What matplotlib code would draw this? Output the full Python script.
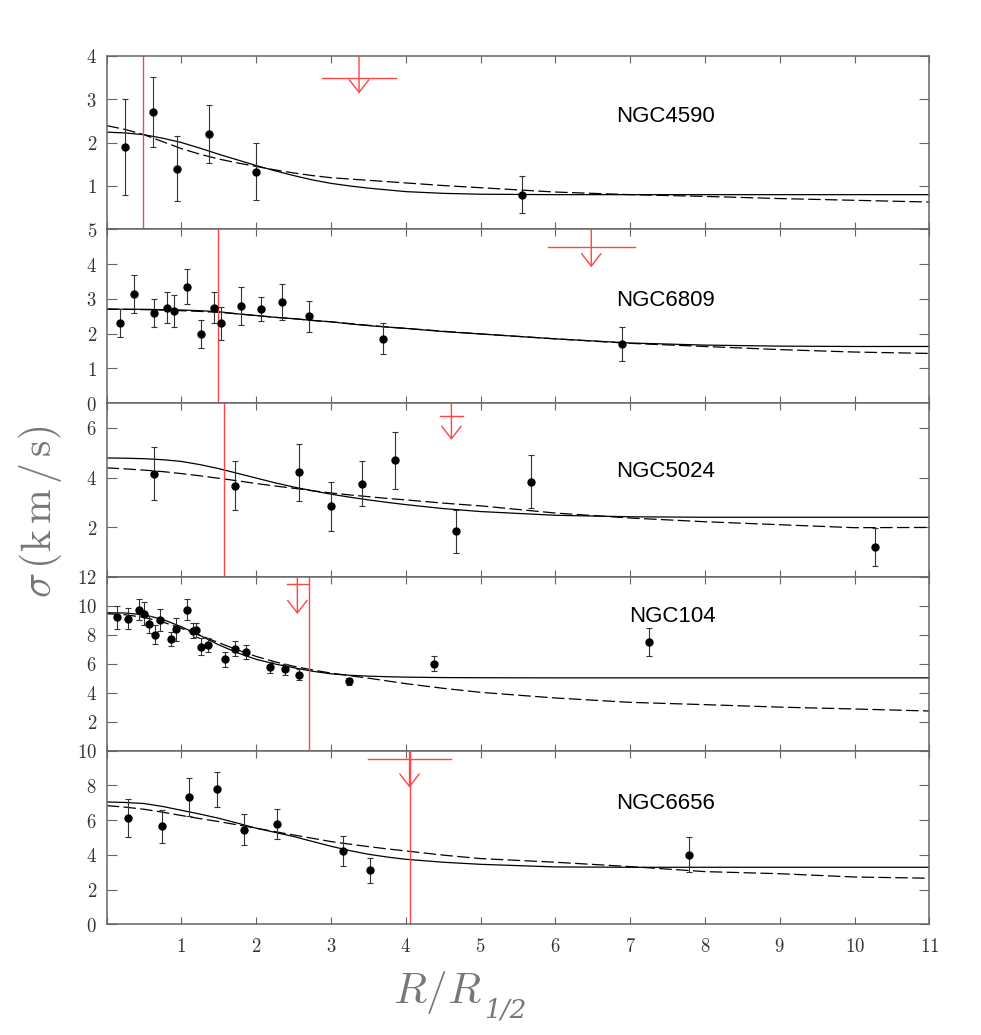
import numpy as np
import matplotlib
matplotlib.use("Agg")
import matplotlib.pyplot as plt
from matplotlib.ticker import FuncFormatter

plt.rcParams['mathtext.fontset'] = 'cm'

# ---- data ----
names = ['NGC4590', 'NGC6809', 'NGC5024', 'NGC104', 'NGC6656']
ylims = [4, 5, 7, 12, 10]

# observed dispersion profiles (R/R_half, sigma, error)
r_4590 = [0.25, 0.625, 0.94, 1.37, 2.0, 5.56]
s_4590 = [1.9, 2.7, 1.4, 2.2, 1.33, 0.8]
e_4590 = [1.1, 0.8, 0.75, 0.67, 0.65, 0.42]

r_6809 = [0.18, 0.36, 0.63, 0.81, 0.90, 1.08, 1.26, 1.44, 1.53, 1.80, 2.07, 2.34, 2.70, 3.69, 6.89]
s_6809 = [2.3, 3.15, 2.6, 2.75, 2.65, 3.35, 2.0, 2.75, 2.3, 2.8, 2.7, 2.9, 2.5, 1.85, 1.7]
e_6809 = [0.4, 0.55, 0.4, 0.45, 0.45, 0.5, 0.4, 0.45, 0.47, 0.55, 0.35, 0.52, 0.45, 0.45, 0.48]

r_5024 = [0.64, 1.71, 2.57, 3.0, 3.42, 3.86, 4.67, 5.68, 10.28]
s_5024 = [4.15, 3.68, 4.22, 2.84, 3.76, 4.69, 1.83, 3.84, 1.2]
e_5024 = [1.07, 1.0, 1.15, 1.0, 0.92, 1.16, 0.85, 1.05, 0.77]

r_104 = [0.145, 0.29, 0.43, 0.505, 0.57, 0.65, 0.72, 0.865, 0.93, 1.075, 1.15, 1.2,
         1.265, 1.36, 1.585, 1.72, 1.86, 2.18, 2.39, 2.57, 3.24, 4.38, 7.25]
s_104 = [9.2, 9.1, 9.73, 9.45, 8.72, 8.0, 9.0, 7.73, 8.38, 9.73, 8.28, 8.33,
         7.18, 7.32, 6.29, 7.04, 6.79, 5.74, 5.6, 5.23, 4.77, 6.0, 7.5]
e_104 = [0.77, 0.73, 0.73, 0.8, 0.57, 0.66, 0.75, 0.48, 0.8, 0.73, 0.5, 0.5,
         0.6, 0.48, 0.53, 0.5, 0.5, 0.36, 0.4, 0.37, 0.23, 0.5, 0.98]

r_6656 = [0.29, 0.74, 1.10, 1.47, 1.835, 2.28, 3.16, 3.52, 7.79]
s_6656 = [6.12, 5.64, 7.31, 7.77, 5.45, 5.78, 4.22, 3.11, 4.0]
e_6656 = [1.1, 0.96, 1.1, 1.0, 0.9, 0.87, 0.84, 0.73, 1.0]

# model curves, sampled by eye on a common radius grid
model_r = [0, 0.25, 0.5, 0.75, 1, 1.25, 1.5, 1.75, 2, 2.25, 2.5, 2.75, 3, 3.25, 3.5, 3.75, 4, 4.5, 5, 6, 7, 8, 9, 10, 11]
solid_4590 = [2.24, 2.22, 2.18, 2.10, 2.00, 1.87, 1.73, 1.60, 1.47, 1.35, 1.24, 1.14, 1.06, 1.00, 0.95, 0.91, 0.87, 0.83, 0.81, 0.80, 0.80, 0.80, 0.80, 0.80, 0.80]
dash_4590 = [2.39, 2.30, 2.18, 2.02, 1.86, 1.73, 1.62, 1.53, 1.45, 1.37, 1.30, 1.24, 1.19, 1.16, 1.13, 1.10, 1.07, 1.01, 0.96, 0.86, 0.80, 0.76, 0.71, 0.67, 0.63]
solid_6809 = [2.70, 2.70, 2.70, 2.69, 2.68, 2.66, 2.63, 2.57, 2.52, 2.47, 2.43, 2.38, 2.34, 2.28, 2.23, 2.19, 2.15, 2.06, 1.99, 1.85, 1.73, 1.67, 1.64, 1.63, 1.63]
dash_6809 = [2.71, 2.70, 2.69, 2.68, 2.66, 2.64, 2.61, 2.57, 2.52, 2.47, 2.43, 2.38, 2.34, 2.29, 2.24, 2.19, 2.15, 2.07, 1.99, 1.85, 1.72, 1.63, 1.54, 1.47, 1.43]
solid_5024 = [4.79, 4.78, 4.76, 4.72, 4.65, 4.52, 4.36, 4.17, 3.98, 3.79, 3.62, 3.47, 3.33, 3.21, 3.10, 3.00, 2.91, 2.75, 2.63, 2.48, 2.42, 2.40, 2.40, 2.40, 2.40]
dash_5024 = [4.39, 4.35, 4.30, 4.24, 4.16, 4.07, 3.97, 3.87, 3.76, 3.66, 3.57, 3.47, 3.38, 3.30, 3.23, 3.16, 3.10, 2.97, 2.86, 2.57, 2.37, 2.22, 2.10, 1.98, 1.99]
solid_104 = [9.52, 9.50, 9.38, 9.06, 8.55, 7.95, 7.30, 6.75, 6.30, 5.98, 5.72, 5.48, 5.30, 5.20, 5.14, 5.10, 5.07, 5.04, 5.03, 5.02, 5.02, 5.02, 5.02, 5.02, 5.02]
dash_104 = [9.45, 9.38, 9.20, 8.88, 8.44, 7.95, 7.45, 6.95, 6.50, 6.13, 5.82, 5.57, 5.35, 5.17, 5.00, 4.81, 4.62, 4.30, 4.02, 3.63, 3.33, 3.17, 3.00, 2.87, 2.73]
solid_6656 = [7.04, 7.01, 6.95, 6.78, 6.56, 6.34, 6.10, 5.82, 5.53, 5.29, 5.05, 4.77, 4.49, 4.24, 4.03, 3.87, 3.74, 3.57, 3.45, 3.30, 3.28, 3.28, 3.28, 3.28, 3.28]
dash_6656 = [6.83, 6.74, 6.62, 6.45, 6.26, 6.08, 5.91, 5.72, 5.53, 5.33, 5.14, 4.95, 4.76, 4.61, 4.47, 4.34, 4.22, 3.98, 3.78, 3.57, 3.32, 3.03, 2.91, 2.72, 2.65]

# red markers: vertical line position, upper limit (x, bar level, arrow tip, bar half width)
red_line = [0.48, 1.49, 1.57, 2.70, 4.05]
lim_x = [3.375, 6.48, 4.61, 2.55, 4.05]
lim_y = [3.49, 4.50, 6.49, 11.47, 9.50]
lim_tip = [3.13, 3.91, 5.52, 9.43, 7.87]
lim_dx = [0.49, 0.58, 0.15, 0.14, 0.55]

obs = [(r_4590, s_4590, e_4590), (r_6809, s_6809, e_6809), (r_5024, s_5024, e_5024),
       (r_104, s_104, e_104), (r_6656, s_6656, e_6656)]
models = [(solid_4590, dash_4590), (solid_6809, dash_6809), (solid_5024, dash_5024),
          (solid_104, dash_104), (solid_6656, dash_6656)]
yticks = [[0, 1, 2, 3, 4], [0, 1, 2, 3, 4, 5], [0, 2, 4, 6], list(range(0, 13, 2)), list(range(0, 11, 2))]
hide_zero = [True, False, True, True, False]
label_pos = [(6.81, 0.616), (6.81, 0.557), (6.81, 0.573), (6.98, 0.738), (6.81, 0.662)]

red = '#ff4545'
grey = '#666666'

fig, axes = plt.subplots(5, 1, sharex=True, figsize=(9.81, 10.35), dpi=100,
                         gridspec_kw=dict(hspace=0))
fig.subplots_adjust(left=0.1087, right=0.9473, top=0.9462, bottom=0.1070)

for i, ax in enumerate(axes):
    r, s, e = obs[i]
    solid, dash = models[i]
    ax.plot(model_r, solid, color='black', lw=0.9)
    ax.plot(model_r, dash, color='black', lw=0.9, dashes=(10, 3.5))
    ax.errorbar(r, s, yerr=e, fmt='o', color='black', ms=5, ecolor='#333333',
                elinewidth=0.8, capsize=2.5, capthick=0.8, zorder=3)

    ax.axvline(red_line[i], color=red, lw=1)
    ax.plot([lim_x[i] - lim_dx[i], lim_x[i] + lim_dx[i]], [lim_y[i], lim_y[i]], color=red, lw=1)
    ax.annotate('', xy=(lim_x[i], lim_tip[i]), xytext=(lim_x[i], ylims[i]),
                arrowprops=dict(arrowstyle='->,head_length=0.9,head_width=0.7', color=red,
                                lw=1, shrinkA=0, shrinkB=0, mutation_scale=10))

    ax.text(label_pos[i][0], label_pos[i][1], names[i], transform=ax.get_xaxis_transform(),
            fontsize=16, family='Liberation Sans', va='baseline', ha='left')

    ax.set_ylim(0, ylims[i])
    ax.set_yticks(yticks[i])
    hz = hide_zero[i]
    ax.yaxis.set_major_formatter(FuncFormatter(
        lambda v, p, hz=hz: '' if (hz and v == 0) else '$%d$' % v))
    ax.tick_params(axis='y', direction='in', left=True, right=True, length=7,
                   width=0.8, color=grey, labelsize=13.5, labelcolor='#333333', pad=7)
    ax.tick_params(axis='x', direction='in', top=True, bottom=True, length=5,
                   width=0.8, color=grey, labelsize=13.5, labelcolor='#333333', pad=9)
    for sp in ax.spines.values():
        sp.set_color(grey)
        sp.set_linewidth(1.1)

axes[-1].set_xlim(0, 11)
axes[-1].set_xticks(range(0, 12))
axes[-1].xaxis.set_major_formatter(FuncFormatter(lambda v, p: '' if v == 0 else '$%d$' % v))

fig.text(40 / 981, 1 - 512 / 1035, r'$\sigma\,(\mathrm{k\,m\,/\,s})$', rotation=90,
         fontsize=30, color='#777777', ha='center', va='center')
fig.text(393 / 981, 1 - 1003 / 1035, r'$R/R$', fontsize=31,
         color='#777777', ha='left', va='baseline')
fig.text(484 / 981, 1 - 1017 / 1035, '1/2', fontsize=19, family='DejaVu Serif',
         style='italic', color='#777777', ha='left', va='baseline')

fig.savefig('out.png', dpi=100)
